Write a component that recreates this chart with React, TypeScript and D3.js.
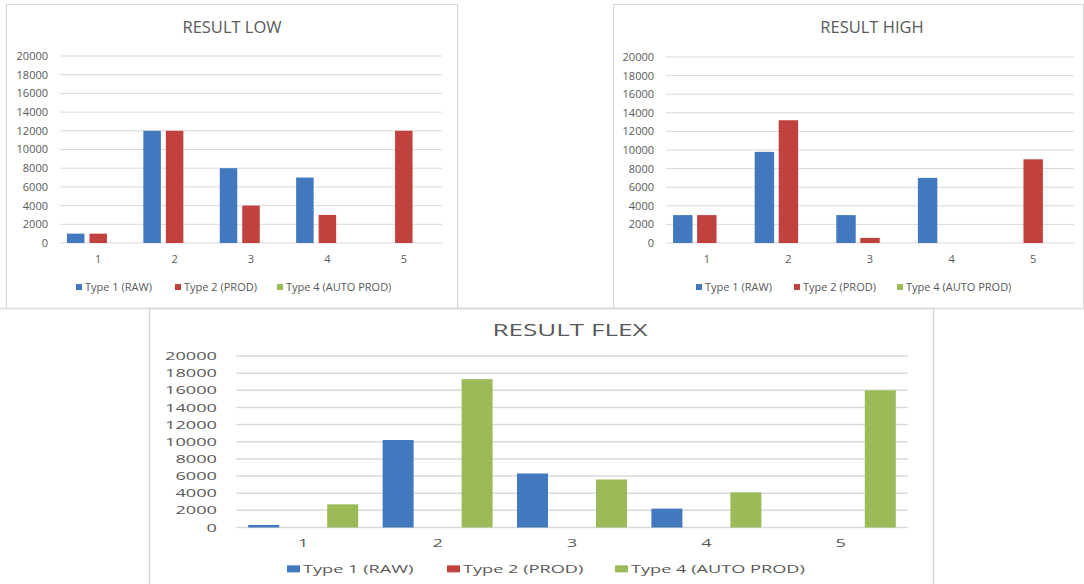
import React from 'react';
import * as d3 from 'd3';

// Shared categories, series names and axis ticks
const categories = ['1', '2', '3', '4', '5'];
const seriesNames = ['Type 1 (RAW)', 'Type 2 (PROD)', 'Type 4 (AUTO PROD)'];
const yTicks = [0, 2000, 4000, 6000, 8000, 10000, 12000, 14000, 16000, 18000, 20000];

// RESULT LOW
const lowRaw = [1000, 12000, 8000, 7000, 0];
const lowProd = [1000, 12000, 4000, 3000, 12000];
const lowAuto = [0, 0, 0, 0, 0];

// RESULT HIGH
const highRaw = [3000, 9800, 3000, 7000, 0];
const highProd = [3000, 13200, 550, 0, 9000];
const highAuto = [0, 0, 0, 0, 0];

// RESULT FLEX
const flexRaw = [300, 10200, 6300, 2200, 0];
const flexProd = [0, 0, 0, 0, 0];
const flexAuto = [2700, 17300, 5600, 4100, 16000];

const COLORS = ['#4178BE', '#C0413E', '#9BBB59'];
const TEXT = '#595959';
const GRID = '#d9d9d9';
const FONT = '"Open Sans", "Liberation Sans", sans-serif';

type Cfg = {
  title: string;
  titleX: number;
  titleY: number;
  titleSize: number;
  plotL: number;
  plotR: number;
  yTop: number;
  yBottom: number;
  tickX: number;
  catY: number;
  fontSize: number;
  sx: number; // horizontal text stretch
  pi: number;
  po: number;
  gridW: number;
  legendY: number;
  legendX: number[];
  sqW: number;
  sqH: number;
  sqGap: number;
};

function Txt({ x, y, sx, size, anchor, children }: any) {
  return (
    <text
      transform={`translate(${x},${y}) scale(${sx},1)`}
      fontSize={size}
      fill={TEXT}
      textAnchor={anchor}
      fontFamily={FONT}
    >
      {children}
    </text>
  );
}

function BarPanel({ cfg, series }: { cfg: Cfg; series: number[][] }) {
  const x0 = d3.scaleBand<string>().domain(categories).range([cfg.plotL, cfg.plotR]);
  const x1 = d3
    .scaleBand<string>()
    .domain(seriesNames)
    .range([0, x0.bandwidth()])
    .paddingInner(cfg.pi)
    .paddingOuter(cfg.po);
  const y = d3.scaleLinear().domain([0, 20000]).range([cfg.yBottom, cfg.yTop]);

  return (
    <g>
      <Txt x={cfg.titleX} y={cfg.titleY} sx={cfg.sx} size={cfg.titleSize} anchor="middle">
        {cfg.title}
      </Txt>
      {yTicks.map((t) => (
        <g key={t}>
          <line
            x1={cfg.plotL}
            x2={cfg.plotR}
            y1={y(t)}
            y2={y(t)}
            stroke={GRID}
            strokeWidth={cfg.gridW}
          />
          <Txt x={cfg.tickX} y={y(t) + cfg.fontSize * 0.36} sx={cfg.sx} size={cfg.fontSize} anchor="end">
            {t}
          </Txt>
        </g>
      ))}
      {series.map((vals, si) =>
        vals.map((v, ci) =>
          v > 0 ? (
            <rect
              key={`${si}-${ci}`}
              x={(x0(categories[ci]) as number) + (x1(seriesNames[si]) as number)}
              y={y(v)}
              width={x1.bandwidth()}
              height={y(0) - y(v)}
              fill={COLORS[si]}
            />
          ) : null
        )
      )}
      {categories.map((c) => (
        <Txt
          key={c}
          x={(x0(c) as number) + x0.bandwidth() / 2}
          y={cfg.catY}
          sx={cfg.sx}
          size={cfg.fontSize}
          anchor="middle"
        >
          {c}
        </Txt>
      ))}
      {seriesNames.map((s, i) => (
        <g key={s}>
          <rect
            x={cfg.legendX[i]}
            y={cfg.legendY - cfg.fontSize * 0.36 - cfg.sqH / 2}
            width={cfg.sqW}
            height={cfg.sqH}
            fill={COLORS[i]}
          />
          <Txt x={cfg.legendX[i] + cfg.sqW + cfg.sqGap} y={cfg.legendY} sx={cfg.sx} size={cfg.fontSize} anchor="start">
            {s}
          </Txt>
        </g>
      ))}
    </g>
  );
}

const lowCfg: Cfg = {
  title: 'RESULT LOW',
  titleX: 232,
  titleY: 33,
  titleSize: 16.5,
  plotL: 60,
  plotR: 442,
  yTop: 56,
  yBottom: 243,
  tickX: 48,
  catY: 263,
  fontSize: 11,
  sx: 1,
  pi: 0.222,
  po: 0.309,
  gridW: 1,
  legendY: 291,
  legendX: [76, 175, 277],
  sqW: 6,
  sqH: 6,
  sqGap: 3,
};

const highCfg: Cfg = {
  ...lowCfg,
  title: 'RESULT HIGH',
  titleX: 872,
  plotL: 666,
  plotR: 1074,
  yTop: 57,
  tickX: 654,
  pi: 0.19,
  po: 0.295,
  legendX: [696, 794, 897],
};

const flexCfg: Cfg = {
  title: 'RESULT FLEX',
  titleX: 570,
  titleY: 336,
  titleSize: 16.5,
  plotL: 236,
  plotR: 908,
  yTop: 356,
  yBottom: 527.5,
  tickX: 217,
  catY: 547,
  fontSize: 11.5,
  sx: 1.58,
  pi: 0.215,
  po: 0.309,
  gridW: 1.5,
  legendY: 573,
  legendX: [287, 447, 615],
  sqW: 13,
  sqH: 7,
  sqGap: 3,
};

export default function App() {
  return (
    <svg
      width={1084}
      height={584}
      style={{ position: 'absolute', left: 0, top: 0, background: '#fff' }}
    >
      <rect width={1084} height={584} fill="#fff" />
      {/* panel frames */}
      <rect x={6.5} y={4.5} width={451} height={304} fill="none" stroke="#d6d6d6" />
      <rect x={613.5} y={4.5} width={470} height={304} fill="none" stroke="#d6d6d6" />
      <line x1={0} x2={1084} y1={308.5} y2={308.5} stroke="#dcdcdc" strokeWidth={1.5} />
      <rect x={149.5} y={308.5} width={784} height={290} fill="none" stroke="#d6d6d6" strokeWidth={1.5} />
      <BarPanel cfg={lowCfg} series={[lowRaw, lowProd, lowAuto]} />
      <BarPanel cfg={highCfg} series={[highRaw, highProd, highAuto]} />
      <BarPanel cfg={flexCfg} series={[flexRaw, flexProd, flexAuto]} />
    </svg>
  );
}
